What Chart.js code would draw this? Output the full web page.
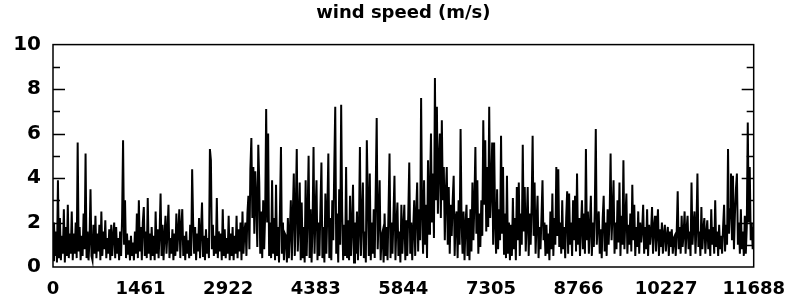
<!DOCTYPE html>
<html>
<head>
<meta charset="utf-8">
<script src="https://cdn.jsdelivr.net/npm/chart.js@4/dist/chart.umd.min.js"></script>
<style>
    html, body { margin: 0; padding: 0; background: #fff; }
    #wrap { width: 797px; height: 303px; }
</style>
</head>
<body>
<div id="wrap"><canvas id="chart" width="797" height="303"></canvas></div>
<script>
const TITLE = "wind speed (m/s)";
const X_MAX = 11688;
const X_TICKS = [0, 1461, 2922, 4383, 5844, 7305, 8766, 10227, 11688];
const Y_TICKS = [0, 2, 4, 6, 8, 10];

// wind speed, one value per pixel column, evenly spaced 0..11688
const SPEED = [
    0.3,2.0,0.5,1.6,0.2,3.9,0.4,2.2,0.3,1.4,0.6,2.6,0.2,1.8,0.5,2.8,0.4,1.5,0.6,2.5,
    0.3,1.5,0.6,2.0,0.4,5.6,0.7,1.8,0.3,1.4,0.5,2.4,0.8,5.1,0.4,1.6,0.3,1.2,3.5,0.5,
    0.3,1.9,0.6,2.3,0.4,1.5,0.7,1.9,0.3,2.5,0.5,1.6,0.8,2.1,0.4,1.3,0.6,1.7,0.3,1.9,
    0.5,1.4,2.0,0.4,1.8,0.6,1.3,0.3,1.6,0.5,2.2,5.7,1.0,3.0,0.4,1.5,0.6,1.2,0.3,1.4,
    0.5,1.1,0.3,1.6,0.6,2.4,0.4,3.0,0.7,1.8,0.3,2.0,2.7,0.5,1.6,0.4,3.1,0.6,1.5,0.3,
    1.8,0.5,1.4,0.3,2.5,0.6,1.7,0.4,1.5,3.3,0.5,1.9,0.3,1.4,2.3,0.6,1.6,2.8,0.4,1.3,
    0.6,1.7,0.3,1.5,0.5,2.4,0.7,1.6,2.6,0.4,1.8,2.6,0.5,1.4,0.3,1.6,0.6,1.2,0.4,1.9,
    0.5,4.4,2.0,0.6,1.8,0.3,1.5,0.7,2.2,0.4,1.6,2.9,0.5,1.4,0.3,1.7,0.6,1.3,0.4,5.3,
    4.8,0.8,1.9,0.5,1.4,0.6,3.1,0.4,1.6,0.7,1.5,0.3,2.6,0.5,1.7,0.4,1.3,0.6,2.3,0.3,
    1.5,0.5,1.8,0.3,1.4,0.6,2.3,0.4,1.7,0.7,2.0,0.3,2.5,0.6,1.6,2.0,0.5,2.4,3.2,0.8,
    4.4,5.8,2.2,4.5,1.5,4.3,3.0,0.9,5.5,3.8,0.6,2.5,0.4,3.0,0.8,2.4,7.1,2.0,6.0,0.5,
    2.0,0.4,3.9,0.6,2.2,0.3,3.7,0.5,1.8,0.2,2.6,5.4,0.6,2.0,0.3,1.5,1.4,0.2,2.2,0.4,
    1.6,3.0,0.3,2.4,4.2,0.5,2.6,5.3,0.7,2.0,3.8,0.3,2.9,0.4,1.8,0.2,3.9,0.5,2.3,5.0,
    0.4,2.6,0.2,1.9,5.4,0.6,2.4,3.9,0.3,2.0,0.5,2.7,4.7,0.4,1.8,0.2,3.3,0.6,2.5,5.1,
    0.4,2.2,0.3,3.0,1.2,4.5,7.2,0.6,2.4,0.2,3.5,1.0,7.3,2.5,0.3,1.9,0.5,4.5,0.4,2.1,
    0.3,3.2,0.5,1.8,3.7,0.2,2.0,0.6,2.5,0.3,1.7,5.4,0.5,2.2,3.8,0.4,1.6,0.2,5.7,3.0,
    0.5,4.2,0.3,2.0,0.6,2.6,0.4,3.5,6.7,0.8,2.2,3.9,0.3,1.4,1.6,0.2,2.4,0.5,1.8,0.3,
    2.6,5.1,0.4,2.0,0.6,2.3,4.1,0.3,1.9,2.9,0.5,1.6,0.2,2.8,0.6,1.8,2.8,0.3,2.1,0.5,
    2.4,4.7,0.6,2.0,0.3,1.7,3.0,0.5,2.4,3.8,0.7,2.6,1.2,7.6,2.5,0.6,3.9,1.0,2.8,0.4,
    4.8,1.5,3.4,6.0,2.0,4.2,1.3,8.5,3.0,7.2,2.4,4.8,6.0,2.2,6.6,3.0,4.5,1.2,3.3,4.5,
    1.0,3.6,0.6,2.8,1.4,3.0,4.1,0.5,2.2,2.5,0.4,3.0,1.0,6.2,2.0,0.6,2.5,0.3,1.9,2.8,
    0.5,2.2,0.3,2.6,0.7,3.8,1.2,2.9,5.4,1.5,3.9,0.6,2.4,0.9,3.0,1.4,6.6,2.8,5.7,1.6,
    4.5,1.8,7.2,2.2,3.5,5.6,1.0,5.6,2.0,0.6,3.5,0.8,2.6,1.2,5.9,1.5,4.5,0.6,2.4,0.4,
    4.1,0.6,2.0,0.3,1.9,0.5,3.1,0.8,2.2,0.3,3.6,1.2,3.8,0.5,2.4,1.0,5.5,1.6,3.6,0.7,
    2.0,3.6,0.5,2.4,1.0,2.8,5.9,1.4,3.8,0.6,2.0,3.2,0.4,1.8,0.8,2.3,3.9,1.2,2.0,0.5,
    1.9,0.6,1.5,0.3,2.5,0.8,3.3,0.5,2.2,1.0,4.5,1.4,4.4,0.9,2.0,0.6,3.0,0.8,1.8,0.4,
    2.2,3.4,0.6,3.3,1.0,2.0,0.5,3.0,1.2,3.2,0.7,4.2,1.0,2.2,0.5,1.8,3.0,0.8,2.4,0.6,
    5.3,1.2,2.5,0.6,1.8,3.2,0.5,2.0,0.9,2.6,6.2,1.0,2.0,2.5,0.6,1.7,0.4,2.2,3.2,0.7,
    2.0,0.5,2.6,1.0,2.2,5.1,1.2,2.4,3.9,0.6,2.0,0.8,3.0,1.1,3.8,0.5,2.3,1.0,4.8,0.8,
    2.2,3.3,0.6,1.9,1.0,2.4,0.7,3.7,1.2,2.8,0.5,1.8,0.9,2.5,0.6,2.0,1.1,1.7,2.8,0.6,
    1.8,0.8,2.6,0.5,1.9,1.0,1.6,2.7,0.6,1.8,2.3,0.7,1.5,2.6,0.5,1.7,0.9,2.0,0.6,1.5,
    1.9,0.7,1.4,1.8,0.5,1.6,0.9,1.7,0.6,1.3,1.4,0.5,1.6,3.4,0.8,1.8,0.6,2.3,0.9,1.5,
    2.5,0.6,1.7,2.3,0.8,1.6,0.5,3.8,1.0,1.9,2.5,0.6,1.8,4.2,0.9,1.6,0.5,2.7,0.8,1.7,
    2.2,0.6,1.5,2.1,0.8,1.7,0.5,2.6,1.0,1.8,0.6,3.0,0.9,1.6,0.5,1.9,0.8,1.4,0.6,1.8,
    2.8,0.7,1.9,1.0,5.3,1.5,2.6,4.2,1.2,4.1,0.8,2.4,3.5,4.2,1.0,2.0,0.6,2.6,0.8,1.6,
    0.5,2.3,0.6,1.8,6.5,2.0,4.5,1.2,2.0,0.8,1.8
];

const step = X_MAX / (SPEED.length - 1);
const points = SPEED.map((v, i) => ({ x: i * step, y: v }));

// frame plus inward ticks on both sides, like the old plot
const frame = {
    id: "frame",
    afterDatasetsDraw(chart) {
        const { ctx, chartArea: a, scales } = chart;
        ctx.save();
        ctx.strokeStyle = "#000";
        ctx.lineWidth = 1.5;
        ctx.strokeRect(a.left, a.top, a.right - a.left, a.bottom - a.top);
        for (let v = 1; v < 10; v++) {
            const y = Math.round(scales.y.getPixelForValue(v)) + 0.5;
            const len = v % 2 === 0 ? 12 : 7;
            ctx.beginPath();
            ctx.moveTo(a.left, y); ctx.lineTo(a.left + len, y);
            ctx.moveTo(a.right, y); ctx.lineTo(a.right - len, y);
            ctx.stroke();
        }
        ctx.restore();
    }
};

new Chart(document.getElementById("chart"), {
    type: "line",
    data: {
        datasets: [{
            data: points,
            borderColor: "#000",
            borderWidth: 2,
            pointRadius: 0,
            tension: 0,
            fill: false
        }]
    },
    options: {
        responsive: false,
        animation: false,
        layout: { padding: { left: 0, right: 34, top: 0, bottom: 0 } },
        plugins: {
            legend: { display: false },
            tooltip: { enabled: false },
            title: {
                display: true,
                text: TITLE,
                fullSize: false,
                color: "#000",
                font: { family: "DejaVu Sans", size: 18, weight: "bold" },
                padding: { top: 3, bottom: 20 }
            }
        },
        scales: {
            x: {
                type: "linear",
                min: 0,
                max: X_MAX,
                grid: { display: false, drawTicks: false, tickLength: 0 },
                border: { display: false },
                afterBuildTicks: s => { s.ticks = X_TICKS.map(v => ({ value: v })); },
                afterFit: s => { s.height = 36; },
                ticks: {
                    autoSkip: false,
                    maxRotation: 0,
                    padding: 12,
                    color: "#000",
                    font: { family: "DejaVu Sans", size: 18, weight: "bold" },
                    callback: v => String(v)
                }
            },
            y: {
                min: 0,
                max: 10,
                grid: { display: false, drawTicks: false, tickLength: 0 },
                border: { display: false },
                afterBuildTicks: s => { s.ticks = Y_TICKS.map(v => ({ value: v })); },
                afterFit: s => { s.width = 53; },
                ticks: {
                    padding: 12,
                    color: "#000",
                    font: { family: "DejaVu Sans", size: 20, weight: "bold" }
                }
            }
        }
    },
    plugins: [frame]
});
</script>
</body>
</html>
